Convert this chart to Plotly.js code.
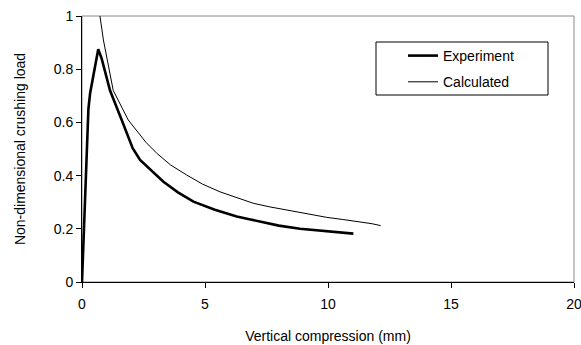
<!DOCTYPE html>
<html>
<head>
<meta charset="utf-8">
<script src="https://cdn.plot.ly/plotly-3.0.1.min.js"></script>
<style>html,body{margin:0;padding:0;background:#fff;}#chart{width:581px;height:345px;}</style>
</head>
<body>
<div id="chart"></div>
<script>
// Experiment series
const expX = [0, 0.21, 0.26, 0.33, 0.5, 0.66, 0.8, 1.14, 1.61, 1.88, 2.06, 2.36, 2.8, 3.31, 3.9, 4.53, 5.4, 6.29, 6.8, 7.24, 8.0, 8.86, 9.95, 10.5, 11.03];
const expY = [0, 0.50, 0.65, 0.71, 0.80, 0.875, 0.84, 0.72, 0.61, 0.55, 0.503, 0.459, 0.42, 0.377, 0.337, 0.302, 0.272, 0.246, 0.236, 0.227, 0.212, 0.200, 0.190, 0.185, 0.182];
// Calculated series
const calX = [0.62, 0.73, 0.87, 1.27, 1.88, 2.15, 2.6, 3.04, 3.6, 4.26, 4.9, 5.61, 6.3, 6.96, 7.6, 8.32, 9.1, 9.95, 10.6, 11.3, 11.8, 12.14];
const calY = [1.15, 1.0, 0.91, 0.72, 0.609, 0.578, 0.525, 0.484, 0.44, 0.402, 0.368, 0.339, 0.316, 0.296, 0.283, 0.271, 0.257, 0.243, 0.235, 0.227, 0.219, 0.212];
const names = ["Experiment", "Calculated"];
const xTicks = [0, 5, 10, 15, 20];
const yTicks = [0, 0.2, 0.4, 0.6, 0.8, 1];
const yTickText = ["0", "0.2", "0.4", "0.6", "0.8", "1"];

const font = {family: "Liberation Sans, Arial, sans-serif", size: 14, color: "#000"};

const traces = [
  {x: expX, y: expY, name: names[0], mode: "lines", line: {color: "#000", width: 2.6}, legendgroup: "a"},
  {x: calX, y: calY, name: names[1], mode: "lines", line: {color: "#000", width: 1}, legendgroup: "b"}
];

const layout = {
  width: 581, height: 345,
  margin: {l: 82, r: 7, t: 16, b: 63},
  paper_bgcolor: "#fff", plot_bgcolor: "#fff",
  font: font,
  showlegend: true,
  legend: {x: (403-82)/492, y: (282-40)/266, xanchor: "left", yanchor: "top", bgcolor: "rgba(0,0,0,0)", borderwidth: 0, font: font, tracegroupgap: 5, traceorder: "grouped", itemwidth: 30},
  xaxis: {
    range: [0, 20], tickvals: xTicks, ticktext: xTicks.map(String),
    showgrid: false, zeroline: false, showline: true, linecolor: "#000", linewidth: 1,
    ticks: "outside", ticklen: 5, tickcolor: "#000", tickfont: font, ticklabelstandoff: 4, ticklabeloverflow: "allow",
    title: {text: "Vertical compression (mm)", font: font, standoff: 20}
  },
  yaxis: {
    range: [0, 1], tickvals: yTicks, ticktext: yTickText,
    showgrid: false, zeroline: false, showline: true, linecolor: "#000", linewidth: 1,
    ticks: "outside", ticklen: 5, tickcolor: "#000", tickfont: font,
    title: {text: "Non-dimensional crushing load", font: font, standoff: 24}
  },
  shapes: [
    {type: "rect", xref: "paper", yref: "paper", x0: 0, x1: 1, y0: 0, y1: 1, line: {color: "#888", width: 1}, layer: "below"},
    {type: "rect", xref: "paper", yref: "paper", x0: (376-82)/492, x1: (548-82)/492, y0: (282-95)/266, y1: (282-42)/266, line: {color: "#000", width: 1}, fillcolor: "rgba(0,0,0,0)"}
  ]
};

Plotly.newPlot("chart", traces, layout, {displayModeBar: false, staticPlot: true});
</script>
</body>
</html>
